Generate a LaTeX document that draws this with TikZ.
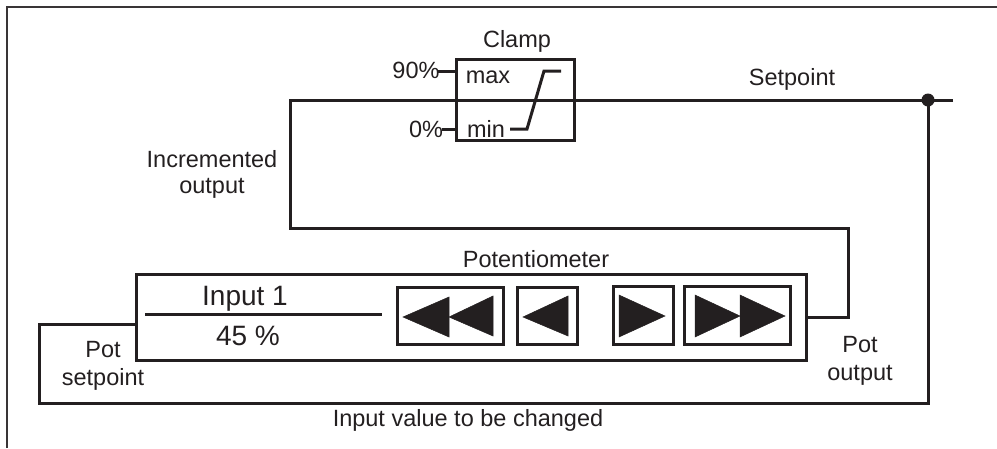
\documentclass[tikz,border=0pt]{standalone}
\usepackage{fontspec}
\setmainfont{Liberation Sans}
\definecolor{ink}{HTML}{231F20}
\begin{document}
\begin{tikzpicture}[x=1pt,y=-1pt]
\tikzset{
  wire/.style={draw=ink,line width=3pt},
  framel/.style={draw=ink!90,line width=2.6pt},
  lbl/.style={text=ink,font=\fontsize{23.5}{28}\selectfont,inner sep=0pt,anchor=base},
  big/.style={text=ink,font=\fontsize{28}{32}\selectfont,inner sep=0pt,anchor=base},
  boxr/.style={draw=ink,line width=2.5pt,inner sep=0pt,anchor=north west},
  tri/.style={fill=ink,draw=ink,line width=0.5pt,line join=miter}}
\useasboundingbox (0,0) rectangle (997,448);
% outer frame
\coordinate (fr1) at (7,448);
\coordinate (fr2) at (7,7);
\coordinate (fr3) at (997,7);
\path[framel] (fr1) -- (fr2) -- (fr3);
% clamp box
\node[boxr,minimum width=118pt,minimum height=81pt] (clamp) at (455,58) {};
\node[lbl] (clampT) at (517,47) {Clamp};
\node[lbl] (maxT) at (488,83) {max};
\node[lbl] (minT) at (486,137) {min};
\node[lbl] (p90) at (416,78) {90\%};
\node[lbl] (p0) at (426,137) {0\%};
\coordinate (c90) at (437,71);
\coordinate (c0) at (442,129);
\path[wire] (c90) -- (c90 -| clamp.west);
\path[wire] (c0) -- (c0 -| clamp.west);
% clamp characteristic
\coordinate (k1) at (510,129);
\coordinate (k2) at (527,129);
\coordinate (k3) at (544,71);
\coordinate (k4) at (561,71);
\path[wire] (k1) -- (k2) -- (k3) -- (k4);
% potentiometer box
\node[boxr,minimum width=670pt,minimum height=86pt] (pot) at (135,273) {};
\node[lbl] (potT) at (536,267) {Potentiometer};
\node[big] (in1) at (245,305) {Input 1};
\node[big] (val) at (248,345) {45 \%};
\coordinate (s1) at (145,314);
\coordinate (s2) at (382,314);
\path[wire] (s1) -- (s2);
% buttons
\node[boxr,minimum width=106pt,minimum height=57pt] (b1) at (396,286) {};
\node[boxr,minimum width=60pt,minimum height=57pt] (b2) at (516,286) {};
\node[boxr,minimum width=60pt,minimum height=58pt] (b3) at (612,285) {};
\node[boxr,minimum width=106pt,minimum height=58pt] (b4) at (683,285) {};
\fill[tri] (403,317) -- (449,297) -- (449,337) -- cycle;
\fill[tri] (449,317) -- (493,296) -- (493,336) -- cycle;
\fill[tri] (523,317) -- (568,296) -- (568,336) -- cycle;
\fill[tri] (665,316) -- (619,295) -- (619,337) -- cycle;
\fill[tri] (740,316) -- (695,295) -- (695,337) -- cycle;
\fill[tri] (785,316) -- (740,295) -- (740,337) -- cycle;
% setpoint line and feedback
\coordinate (sp0) at (290,100);
\coordinate (spEnd) at (953,100);
\coordinate (dot) at (928,100);
\coordinate (f1) at (290,228);
\coordinate (f2) at (848,228);
\coordinate (f3) at (848,317);
\path[wire] (spEnd) -- (sp0) -- (f1) -- (f2) -- (f3) -- (f3 -| pot.east);
\node[lbl] (spT) at (792,85) {Setpoint};
\node[lbl] (incT) at (212,167) {Incremented};
\node[lbl] (incT2) at (212,193) {output};
% return loop
\coordinate (r1) at (928,403);
\coordinate (r2) at (39,403);
\coordinate (r3) at (39,324);
\path[wire] (dot) -- (r1) -- (r2) -- (r3) -- (r3 -| pot.west);
\fill[ink] (dot) circle (6.5pt);
\node[lbl] (potS1) at (103,357) {Pot};
\node[lbl] (potS2) at (103,385) {setpoint};
\node[lbl] (potO1) at (860,352) {Pot};
\node[lbl] (potO2) at (860,380) {output};
\node[lbl] (chg) at (468,426) {Input value to be changed};
\end{tikzpicture}
\end{document}
